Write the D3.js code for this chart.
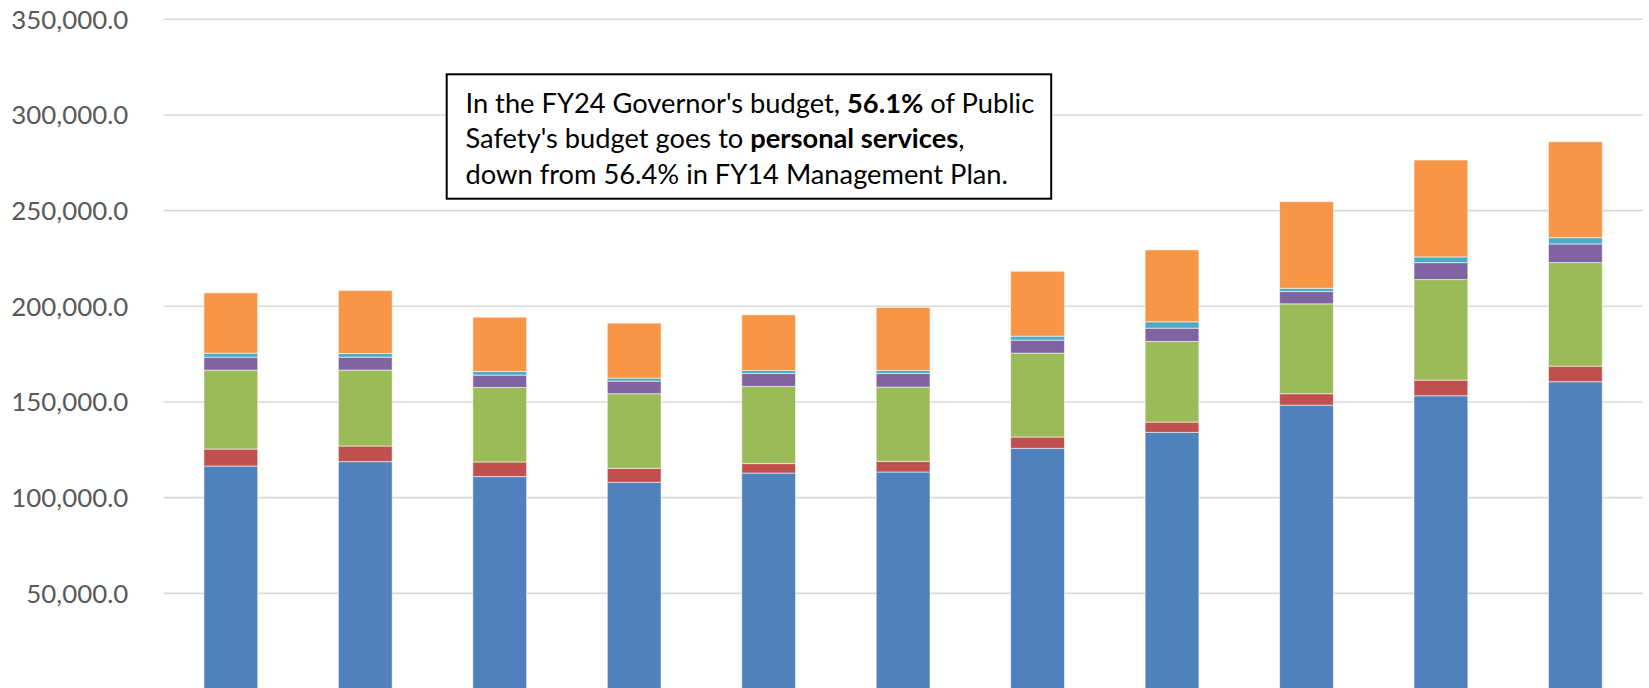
<!DOCTYPE html>
<html>
<head>
<meta charset="utf-8">
<script src="https://cdn.jsdelivr.net/npm/d3@7"></script>
<style>
  html, body { margin: 0; padding: 0; background: #fff; }
  svg { display: block; }
</style>
</head>
<body>
<svg id="chart" width="1649" height="688"></svg>
<script>
// fiscal years, one stacked bar each (axis labels are cut off in the picture)
var years = ["FY14","FY15","FY16","FY17","FY18","FY19","FY20","FY21","FY22","FY23","FY24"];
var seriesNames = ["Personal Services","Travel","Services","Commodities","Capital Outlay","Grants & Benefits"];
var seriesColors = ["#4f81bd","#c0504d","#9bbb59","#8064a2","#4bacc6","#f79646"];

var personalServices = [116540,118840,111010,108030,112890,113410,125780,134130,148380,153280,160590];
var travel           = [  8870,  8140,  7620,  7310,  4910,  5580,  5900,  5380,  5950,  8140,  8140];
var services         = [ 41230, 39670, 38990, 38990, 40340, 38780, 43840, 42120, 46970, 52560, 54120];
var commodities      = [  6780,  6780,  6420,  6580,  6780,  7150,  6790,  6940,  6420,  8870,  9760];
var capitalOutlay    = [  2090,  1930,  1930,  1570,  1570,  1570,  2090,  3340,  1720,  2980,  3290];
var grants           = [ 31520, 32880, 28340, 28700, 29070, 32880, 33920, 37580, 45250, 50620, 50100];

var yTicks = [50000,100000,150000,200000,250000,300000,350000];

var noteLines = [
    [["In the FY24 Governor's budget, ",false],["56.1%",true],[" of Public",false]],
    [["Safety's budget goes to ",false],["personal services",true],[",",false]],
    [["down from 56.4% in FY14 Management Plan.",false]]
];

var width = 1649,
    height = 688,
    margin = {left:163.6, top:19.3, right:6.4, bottom:-1};

var svg = d3.select("#chart");

// build rows for the stack
var allSeries = [personalServices, travel, services, commodities, capitalOutlay, grants];
var rows = years.map(function(y,i){
    var r = {year:y};
    seriesNames.forEach(function(n,j){ r[n] = allSeries[j][i]; });
    return r;
});
var stacked = d3.stack().keys(seriesNames)(rows);

var scale_x = d3.scaleBand().domain(years)
    .range([margin.left, width - margin.right])
    .paddingInner(0.6).paddingOuter(0.3);
var scale_y = d3.scaleLinear().domain([0,350000]).range([height - margin.bottom, margin.top]);

// gridlines
svg.append("g").selectAll("line").data(yTicks).join("line")
    .attr("x1", margin.left).attr("x2", width - margin.right)
    .attr("y1", function(d){return scale_y(d);})
    .attr("y2", function(d){return scale_y(d);})
    .attr("stroke", "#d9d9d9").attr("stroke-width", 1.6);

// y axis labels
var fmt = d3.format(",.1f");
var ylab = svg.append("g").selectAll("text").data(yTicks).join("text")
    .attr("x", 128.3)
    .attr("y", function(d){return scale_y(d);})
    .attr("dy", "0.36em")
    .attr("text-anchor", "end")
    .attr("fill", "#595959")
    .style("font-family", "Lato, 'Open Sans', sans-serif")
    .style("font-size", "26px")
    .text(function(d){return fmt(d);});

// fit label size to the reference width
var w0 = ylab.filter(function(d){return d===350000;}).node().getComputedTextLength();
ylab.style("font-size", (26*117/w0) + "px");

// bars
svg.append("g").selectAll("g").data(stacked).join("g")
    .attr("fill", function(d,i){return seriesColors[i];})
    .selectAll("rect").data(function(d){return d;}).join("rect")
    .attr("x", function(d){return scale_x(d.data.year);})
    .attr("width", scale_x.bandwidth())
    .attr("y", function(d){return scale_y(d[1]);})
    .attr("height", function(d){return scale_y(d[0]) - scale_y(d[1]);})
    .attr("stroke", "#fff").attr("stroke-opacity", 0.55).attr("stroke-width", 1);

// note box
var box = svg.append("g");
box.append("rect")
    .attr("x", 446.7).attr("y", 74.3)
    .attr("width", 604.5).attr("height", 124.4)
    .attr("fill", "#fff").attr("stroke", "#000").attr("stroke-width", 2);

var note = box.append("text")
    .attr("fill", "#000")
    .style("font-family", "Lato, 'Open Sans', sans-serif")
    .style("font-size", "26px");
noteLines.forEach(function(line,i){
    line.forEach(function(part,j){
        var t = note.append("tspan").text(part[0])
            .style("font-weight", part[1] ? "bold" : "normal");
        if(j===0){
            t.attr("x", 465.5).attr("y", 113 + i*35.3);
        }
    });
});
// scale the note so the first line is as wide as in the picture
var lw = 0;
note.selectAll("tspan").filter(function(d,k){return k<3;}).each(function(){ lw += this.getComputedTextLength(); });
note.style("font-size", (26*569/lw) + "px");
</script>
</body>
</html>
